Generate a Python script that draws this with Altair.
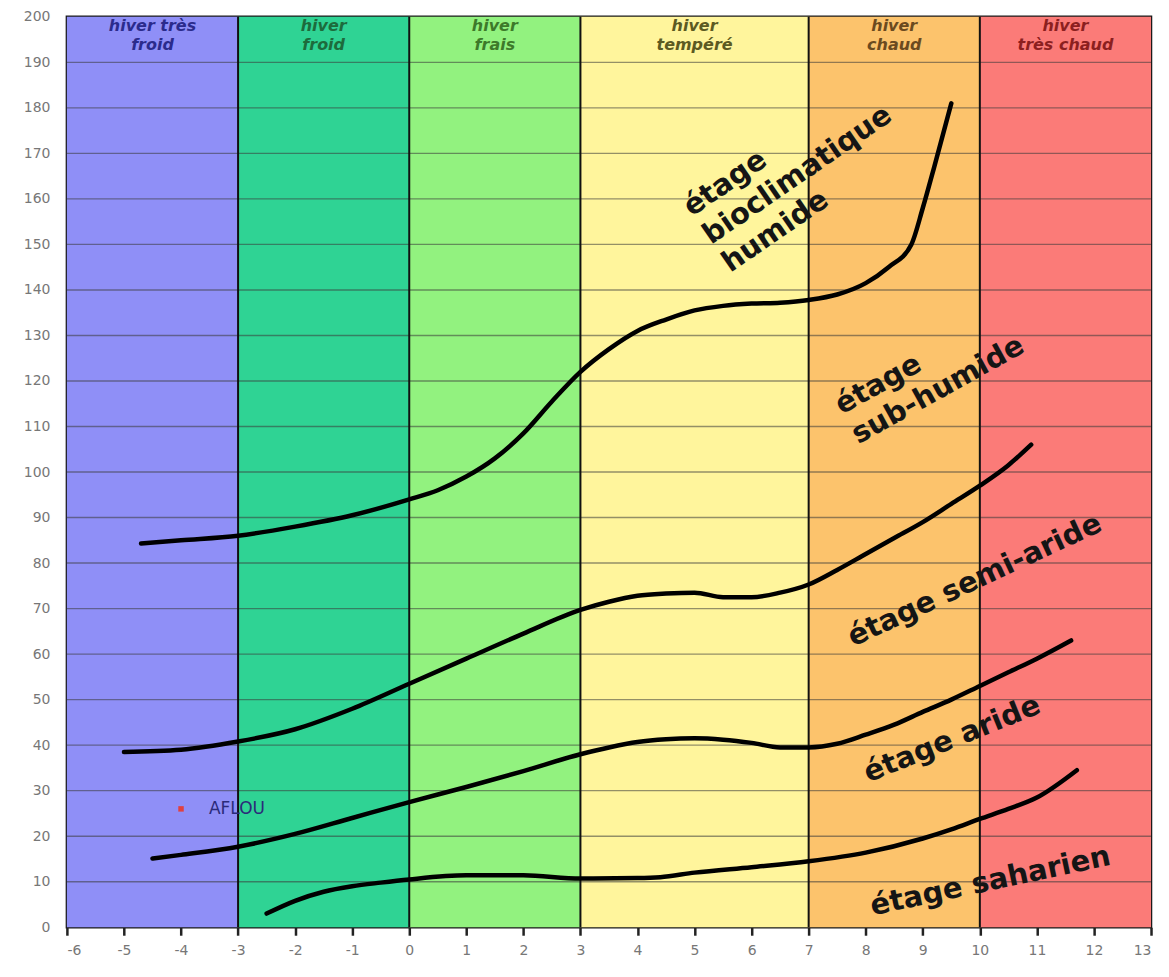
import altair as alt
import pandas as pd

# Bands (winter types)
band_x0 = [-6, -3, 0, 3, 7, 10]
band_x1 = [-3, 0, 3, 7, 10, 13]
band_colors = ["#8f8ff7", "#2fd394", "#92f27f", "#fff59c", "#fcc36c", "#fb7b78"]
band_titles = ["hiver  très\nfroid", "hiver\nfroid", "hiver\nfrais", "hiver\ntempéré", "hiver\nchaud", "hiver\ntrès chaud"]
band_text_colors = ["#2b2b8c", "#1d6b3c", "#3d7a2a", "#5c5a22", "#6b4a1f", "#8c1f1f"]

# Boundary curves
hum_x = [-4.7, -4, -3, -2, -1, 0, 0.5, 1, 1.5, 2, 2.5, 3, 3.5, 4, 4.5, 5, 5.5, 6, 6.5, 7, 7.5, 8, 8.4, 8.8, 9.0, 9.2, 9.5]
hum_y = [84.3, 85, 86, 88, 90.5, 94, 96, 99, 103, 108.5, 115.5, 122, 127, 131, 133.5, 135.5, 136.5, 137, 137.2, 137.8, 139, 141.5, 145, 150, 158, 167, 181]

sub_x = [-5, -4, -3, -2, -1, 0, 1, 2, 3, 3.5, 4, 4.5, 5, 5.5, 6, 6.5, 7, 7.5, 8, 8.5, 9, 9.5, 10, 10.5, 10.9]
sub_y = [38.5, 39, 40.8, 43.5, 48, 53.5, 59, 64.5, 69.7, 71.5, 72.8, 73.3, 73.5, 72.5, 72.5, 73.5, 75.3, 78.5, 82, 85.5, 89, 93, 97, 101.5, 106]

semi_x = [-4.5, -4, -3, -2, -1, 0, 1, 2, 3, 3.5, 4, 4.5, 5, 5.5, 6, 6.5, 7, 7.5, 8, 8.5, 9, 9.5, 10, 10.5, 11, 11.6]
semi_y = [15.1, 15.9, 17.7, 20.5, 24, 27.5, 30.8, 34.3, 38, 39.5, 40.7, 41.3, 41.5, 41.2, 40.5, 39.5, 39.5, 40.3, 42.3, 44.5, 47.3, 50, 53, 56, 59, 63]

ari_x = [-2.5, -2, -1.5, -1, -0.5, 0, 1, 2, 3, 4, 4.4, 5, 6, 7, 8, 9, 9.5, 10, 10.5, 11, 11.7]
ari_y = [3, 5.8, 7.8, 9, 9.8, 10.5, 11.4, 11.4, 10.7, 10.8, 11, 12, 13.2, 14.5, 16.4, 19.5, 21.5, 23.8, 26, 28.5, 34.5]

# Zone labels (anchored at start of first line's baseline)
zone_text = ["étage\nbioclimatique\nhumide", "étage\nsub-humide", "étage semi-aride", "étage aride", "étage saharien"]
zone_x = [4.95, 7.58, 7.78, 8.05, 8.12]
zone_y = [156.0, 112.6, 61.6, 31.8, 2.6]
zone_angle = [325.5, 331, 335, 338, 348]

# Station
station_name = ["AFLOU"]
station_x = [-4]
station_y = [26]

x_ticks = list(range(-6, 14))
y_ticks = list(range(0, 201, 10))
grid_y = y_ticks[1:-1]
vlines = [-3, 0, 3, 7, 10]

bands = pd.DataFrame({"x0": band_x0, "x1": band_x1, "color": band_colors,
                      "title": band_titles, "tcol": band_text_colors,
                      "xc": [(a + b) / 2 for a, b in zip(band_x0, band_x1)]})

curves = pd.concat([
    pd.DataFrame({"x": hum_x, "y": hum_y, "c": "humide"}),
    pd.DataFrame({"x": sub_x, "y": sub_y, "c": "sub"}),
    pd.DataFrame({"x": semi_x, "y": semi_y, "c": "semi"}),
    pd.DataFrame({"x": ari_x, "y": ari_y, "c": "aride"}),
])

xs = alt.Scale(domain=[-6, 13], nice=False, zero=False)
ys = alt.Scale(domain=[0, 200], nice=False, zero=False)

xaxis = alt.Axis(values=x_ticks, grid=False, domain=False, tickColor="#222", tickSize=8,
                 tickWidth=2.5, labelColor="#777", labelFontSize=14, labelFont="DejaVu Sans",
                 labelPadding=8, title=None, labelExpr="'' + datum.value")
yaxis = alt.Axis(values=y_ticks, grid=False, domain=False, ticks=False, labelColor="#777",
                 labelFontSize=14, labelFont="DejaVu Sans", labelPadding=17, title=None,
                 labelExpr="'' + datum.value")

rects = alt.Chart(bands).mark_rect().encode(
    x=alt.X("x0:Q", scale=xs, axis=xaxis),
    x2="x1:Q",
    y=alt.value(0),
    y2=alt.value(912),
    color=alt.Color("color:N", scale=None),
)

hgrid = alt.Chart(pd.DataFrame({"y": grid_y})).mark_rule(color="#3a3a3a", strokeWidth=1.4, opacity=0.55).encode(
    y=alt.Y("y:Q", scale=ys, axis=yaxis)
)

vgrid = alt.Chart(pd.DataFrame({"x": vlines})).mark_rule(color="#111", strokeWidth=2).encode(
    x=alt.X("x:Q", scale=xs)
)

titles = alt.Chart(bands).mark_text(
    fontSize=16, fontStyle="italic", fontWeight=600, font="DejaVu Sans", baseline="top", lineBreak="\n",
    lineHeight=19, dy=1
).encode(
    x=alt.X("xc:Q", scale=xs),
    y=alt.value(0),
    text="title:N",
    color=alt.Color("tcol:N", scale=None),
)

lines = alt.Chart(curves).mark_line(color="black", strokeWidth=4.5, interpolate="monotone",
                                    strokeCap="round").encode(
    x=alt.X("x:Q", scale=xs),
    y=alt.Y("y:Q", scale=ys),
    detail="c:N",
)

zdf = pd.DataFrame({"t": zone_text, "x": zone_x, "y": zone_y})
zone_layers = []
for i in range(len(zone_text)):
    zone_layers.append(
        alt.Chart(zdf.iloc[[i]]).mark_text(
            fontSize=29, fontWeight="bold", fontStyle="normal", font="DejaVu Sans", color="#151515",
            lineBreak="\n", lineHeight=34, angle=zone_angle[i], align="left", baseline="alphabetic"
        ).encode(x=alt.X("x:Q", scale=xs), y=alt.Y("y:Q", scale=ys), text="t:N")
    )

sdf = pd.DataFrame({"name": station_name, "x": station_x, "y": station_y})
spoint = alt.Chart(sdf).mark_point(shape="square", filled=True, color="#e04040", size=30, opacity=1).encode(
    x=alt.X("x:Q", scale=xs), y=alt.Y("y:Q", scale=ys)
)
slabel = alt.Chart(sdf).mark_text(align="left", dx=28, fontSize=17, font="DejaVu Sans",
                                  color="#2b2b7a").encode(
    x=alt.X("x:Q", scale=xs), y=alt.Y("y:Q", scale=ys), text="name:N"
)

chart = alt.layer(rects, hgrid, vgrid, titles, lines, *zone_layers, spoint, slabel).properties(
    width=1086, height=912,
    autosize=alt.AutoSizeParams(type="none"),
    padding={"left": 59, "top": 8, "right": 10, "bottom": 40},
    background="white",
).configure_view(stroke="#1a1a1a", strokeWidth=2.5)

chart.save("out.html", embed_options={"renderer": "svg", "actions": False})
